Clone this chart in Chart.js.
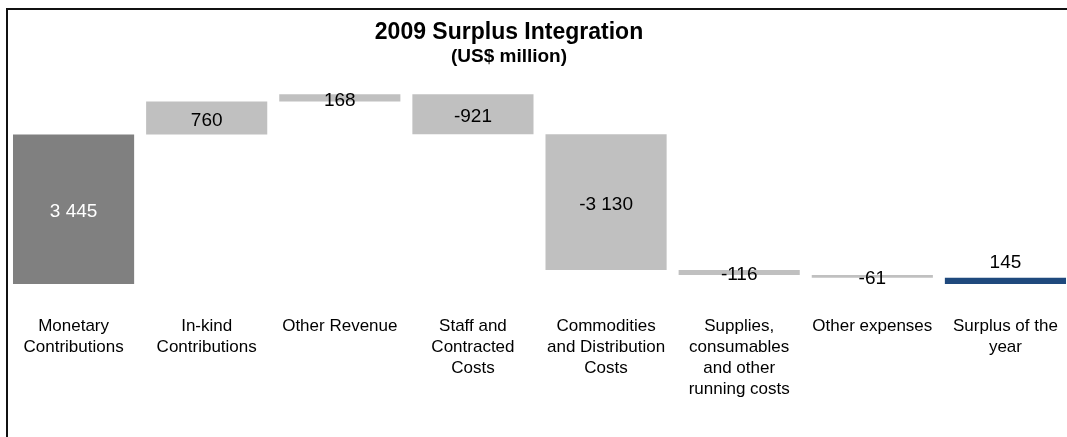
<!DOCTYPE html>
<html>
<head>
<meta charset="utf-8">
<title>2009 Surplus Integration</title>
<script src="https://cdn.jsdelivr.net/npm/chart.js@4.4.1/dist/chart.umd.min.js"></script>
<style>
  html, body { margin: 0; padding: 0; background: #fff; overflow: hidden; width: 1067px; height: 437px; }
  #wrap { position: relative; width: 1067px; height: 437px; overflow: hidden; }
  #c { position: absolute; left: 0; top: 0; }
  .frame { position: absolute; left: 6px; top: 8px; width: 1080px; height: 450px;
           border-left: 2px solid #111; border-top: 2px solid #111; pointer-events: none; }
  .title { position: absolute; left: 0; width: 1018px; text-align: center; color: #000;
           font-family: 'Liberation Sans', Arial, sans-serif; font-weight: bold; white-space: nowrap; }
</style>
</head>
<body>
<div id="wrap">
  <canvas id="c" width="1072" height="437"></canvas>
  <div class="title" style="top:18px;font-size:23px;line-height:26px;">2009 Surplus Integration</div>
  <div class="title" style="top:45px;font-size:19px;line-height:22px;">(US$ million)</div>
  <div class="frame"></div>
</div>
<script>
// Waterfall of the 2009 surplus, US$ million
const categories = [
  ['Monetary', 'Contributions'],
  ['In-kind', 'Contributions'],
  ['Other Revenue'],
  ['Staff and', 'Contracted', 'Costs'],
  ['Commodities', 'and Distribution', 'Costs'],
  ['Supplies,', 'consumables', 'and other', 'running costs'],
  ['Other expenses'],
  ['Surplus of the', 'year']
];
const values = [3445, 760, 168, -921, -3130, -116, -61, 145];
const isTotal = [false, false, false, false, false, false, false, true];
const barColors = ['#808080', '#C0C0C0', '#C0C0C0', '#C0C0C0', '#C0C0C0', '#C0C0C0', '#C0C0C0', '#1F497D'];
const labelColors = ['#FFFFFF', '#000', '#000', '#000', '#000', '#000', '#000', '#000'];

// Floating [start, end] ranges: running total for steps, from zero for the total bar
const ranges = [];
let running = 0;
values.forEach((v, i) => {
  if (isTotal[i]) {
    ranges.push([0, v]);
  } else {
    ranges.push([running, running + v]);
    running += v;
  }
});

function formatValue(v) {
  const s = Math.abs(v).toString().replace(/\B(?=(\d{3})+(?!\d))/g, ' ');
  return (v < 0 ? '-' : '') + s;
}

const FONT = "'Liberation Sans', Arial, sans-serif";

const valueLabels = {
  id: 'valueLabels',
  afterDatasetsDraw(chart) {
    const ctx = chart.ctx;
    const meta = chart.getDatasetMeta(0);
    ctx.save();
    ctx.font = '19px ' + FONT;
    ctx.textAlign = 'center';
    ctx.textBaseline = 'middle';
    meta.data.forEach((bar, i) => {
      const top = Math.min(bar.y, bar.base);
      const bottom = Math.max(bar.y, bar.base);
      let y;
      if (isTotal[i]) {
        y = top - 15;
      } else {
        y = (top + bottom) / 2 + 2.5;
      }
      ctx.fillStyle = labelColors[i];
      ctx.fillText(formatValue(values[i]), bar.x, y);
    });
    ctx.restore();
  }
};

new Chart(document.getElementById('c'), {
  type: 'bar',
  data: {
    labels: categories,
    datasets: [{
      data: ranges,
      backgroundColor: barColors,
      borderWidth: 0,
      borderSkipped: false,
      barPercentage: 0.91,
      categoryPercentage: 1.0
    }]
  },
  options: {
    responsive: false,
    animation: false,
    devicePixelRatio: 1,
    layout: { padding: { left: 7, right: 0, top: 67, bottom: 0 } },
    plugins: {
      legend: { display: false },
      tooltip: { enabled: false },
      title: { display: false }
    },
    scales: {
      x: {
        offset: true,
        grid: { display: false, drawTicks: false },
        border: { display: false },
        ticks: {
          autoSkip: false,
          maxRotation: 0,
          minRotation: 0,
          padding: 32,
          color: '#000',
          font: { family: FONT, size: 17, lineHeight: 1.235 }
        },
        afterFit(scale) {
          // fixed band for the category names; bars span the full width
          scale.height = 153;
          scale.paddingLeft = 0;
          scale.paddingRight = 0;
        }
      },
      y: {
        display: false,
        min: 0,
        max: 5000
      }
    }
  },
  plugins: [valueLabels]
});
</script>
</body>
</html>
